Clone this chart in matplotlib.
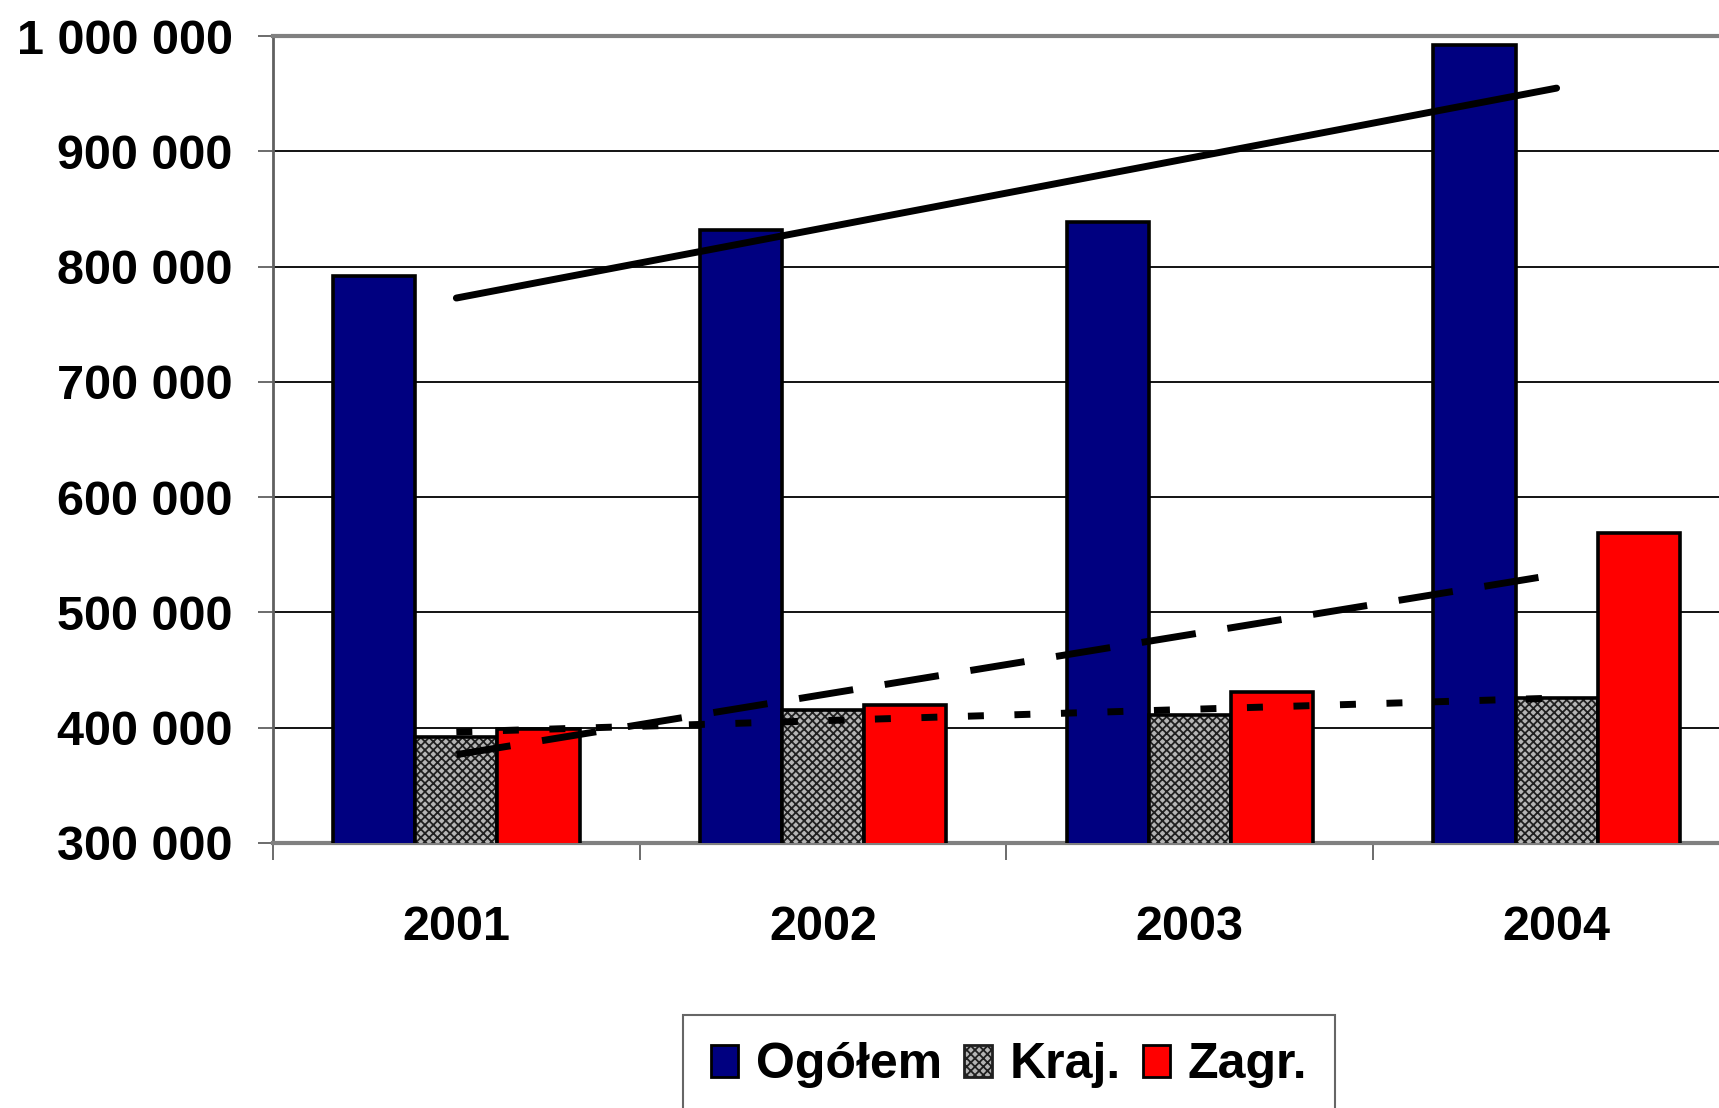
import numpy as np
import matplotlib
matplotlib.use('Agg')
import matplotlib.pyplot as plt
from matplotlib.ticker import FuncFormatter, MultipleLocator
from matplotlib.patches import Patch

years = ['2001', '2002', '2003', '2004']
ogolem = [792000, 832000, 839000, 992000]
kraj = [392000, 415000, 411000, 426000]
zagr = [399000, 420000, 431000, 569000]

plt.rcParams['font.family'] = ['Liberation Sans', 'DejaVu Sans']
plt.rcParams['font.weight'] = 'bold'
plt.rcParams['hatch.linewidth'] = 1.3

fig = plt.figure(figsize=(17.19, 11.08), dpi=100)
ax = fig.add_axes([0.1588, 0.2392, 0.8534, 0.7283])

x = np.arange(len(years))
w = 0.224

ax.bar(x - w, ogolem, w, color='#000080', edgecolor='black', linewidth=2.6, zorder=3)
# hatched fill for Kraj, then outline on top
ax.bar(x, kraj, w, color='#b4b4b4', edgecolor='#202020', hatch='xxxx', linewidth=0, zorder=3)
ax.bar(x, kraj, w, fill=False, edgecolor='black', linewidth=2.6, zorder=3)
ax.bar(x + w, zagr, w, color='#ff0000', edgecolor='black', linewidth=2.6, zorder=3)

# linear trendlines
for vals, ls in [(ogolem, '-'), (zagr, (0, (7.9, 4.6))), (kraj, (0, (2.3, 4.4)))]:
    k, b = np.polyfit(x, vals, 1)
    ax.plot(x, k * x + b, color='black', lw=5, ls=ls,
            solid_capstyle='round', dash_capstyle='butt', zorder=4)

ax.set_ylim(300000, 1000000)
ax.set_xlim(-0.5, 3.5)
ax.yaxis.set_major_locator(MultipleLocator(100000))
ax.yaxis.set_major_formatter(FuncFormatter(lambda v, p: f'{v:,.0f}'.replace(',', ' ')))
ax.grid(axis='y', color='black', lw=1.3, zorder=0)

ax.set_xticks([-0.5, 0.5, 1.5, 2.5, 3.5])
ax.set_xticklabels([])
ax.set_xticks(x, minor=True)
ax.set_xticklabels(years, minor=True)
ax.tick_params(axis='x', which='major', length=12, width=1.3, color='#606060')
ax.tick_params(axis='x', which='minor', length=0, pad=45, labelsize=35)
ax.tick_params(axis='y', length=11, width=1.3, pad=18, labelsize=35, color='#606060')

for s in ['top', 'bottom']:
    ax.spines[s].set_color('#808080')
    ax.spines[s].set_linewidth(3)
ax.spines['left'].set_color('#606060')
ax.spines['left'].set_linewidth(2)
ax.spines['right'].set_visible(False)

handles = [Patch(facecolor='#000080', edgecolor='black', lw=2),
           Patch(facecolor='#b4b4b4', edgecolor='#202020', hatch='xxxx', lw=2),
           Patch(facecolor='#ff0000', edgecolor='black', lw=2)]
leg = fig.legend(handles, ['Ogółem', 'Kraj.', 'Zagr.'], loc='upper center',
                 bbox_to_anchor=(0.587, 1 - 1015 / 1108), ncol=3, fontsize=36,
                 handlelength=0.55, handleheight=0.6, handletextpad=0.35,
                 columnspacing=0.45, borderpad=0.55, borderaxespad=0,
                 fancybox=False, frameon=True, edgecolor='#404040')
leg.get_frame().set_linewidth(1.5)

plt.savefig('out.png', dpi=100)
